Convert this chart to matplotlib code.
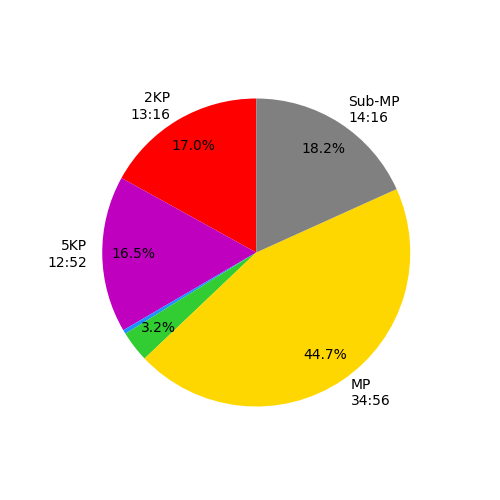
import matplotlib
matplotlib.use('Agg')
import matplotlib.pyplot as plt

# Phasen und Dauer in Sekunden
labels = ['2KP\n13:16', '5KP\n12:52', '', '', 'MP\n34:56', 'Sub-MP\n14:16']
seconds = [796, 772, 20, 152, 2096, 856]
colors = ['red', 'm', 'dodgerblue', 'limegreen', 'gold', 'gray']


def pct(p):
    return f'{p:.1f}%' if p >= 1 else ''


fig, ax = plt.subplots(figsize=(5, 5), dpi=100)
ax.pie(seconds, labels=labels, colors=colors, autopct=pct,
       startangle=90, pctdistance=0.8)
fig.savefig('out.png')
